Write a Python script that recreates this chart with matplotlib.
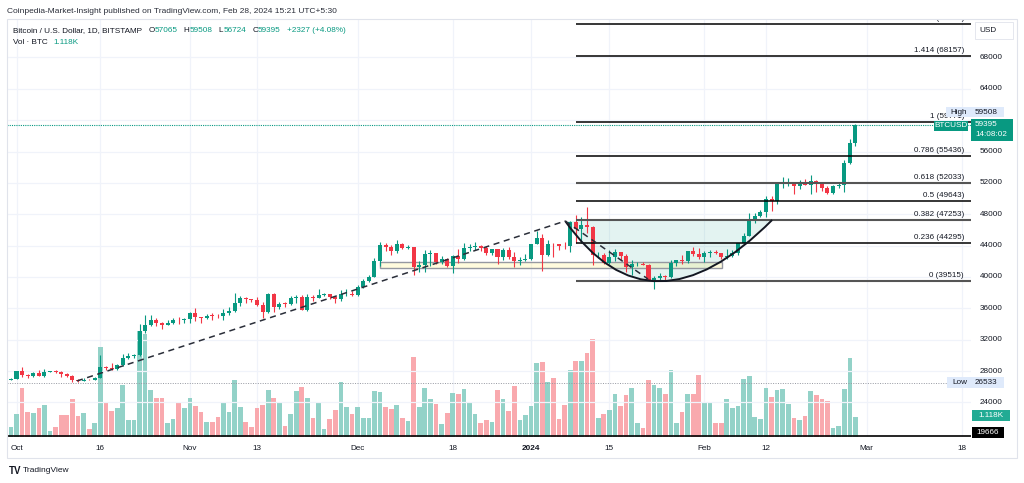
import matplotlib
matplotlib.use('Agg')
import matplotlib.pyplot as plt
import matplotlib.dates as mdates
import matplotlib.transforms as mtransforms
from matplotlib.patches import Rectangle, PathPatch
from matplotlib.path import Path
from matplotlib.offsetbox import TextArea, HPacker, AnnotationBbox
import pandas as pd

plt.rcParams['font.family'] = ['Liberation Sans', 'DejaVu Sans']

# daily candles, BITSTAMP BTC/USD, 2023-09-29 .. 2024-02-28
dates = pd.date_range('2023-09-29', '2024-02-28', freq='D')

opens = [27030, 26910,
         26960, 27980, 27510, 27430, 27790, 27410, 27930, 27950, 27920, 27590, 27390, 26870, 26750, 26860, 26850,
         27150, 28500, 28410, 28320, 28720, 29670, 29910, 29990, 33080, 33920, 34500, 34150, 33900, 34090, 34530, 34490,
         34660, 35420, 34940, 34720, 35070, 35030, 35010, 35400, 35640, 36700, 37320, 37140, 37060, 36490, 35550,
         37880, 36160, 36600, 36590, 37380, 37460, 35800, 37420, 37290, 37720, 37790, 37480, 37250, 37820, 37850,
         37720, 38690, 39460, 39970, 41980, 44080, 43770, 43290, 44170, 43720, 43790, 41240, 41480, 42890, 43020,
         41940, 42270, 41370, 42660, 42270, 43650, 43860, 43990, 43740, 43020, 43580, 42520, 43440, 42580, 42070, 42140,
         42280, 44180, 44960, 42850, 44180, 44160, 43970, 43930, 46970, 46120, 46650, 46340, 42780, 42850, 41730,
         42510, 43150, 42740, 41280, 41620, 41670, 41560, 39570, 39900, 40080, 39940, 41820, 42120, 42030, 43300, 42950,
         42580, 43080, 43190, 43010, 42580, 42700, 43090, 44340, 45290, 47130, 47770, 48290, 49960, 49700, 51800,
         51940, 52140, 51660, 52120, 51780, 52280, 51850, 51300, 50740, 51570, 51730, 54490, 57065]
highs = [27230, 27090,
         28050, 28580, 27660, 27830, 28120, 28270, 28000, 28110, 27990, 27730, 27480, 26940, 27090, 26970, 27290,
         30000, 28610, 28970, 28900, 30200, 30350, 30200, 34000, 35200, 35120, 34780, 34230, 34470, 34760, 34860, 34720,
         35570, 35990, 34950, 35280, 35390, 35300, 35880, 36120, 37950, 37530, 37410, 37220, 37420, 36750, 37960,
         37930, 36860, 36840, 37530, 37750, 37660, 37870, 37660, 38420, 37900, 37830, 37570, 38380, 38440, 38180,
         38970, 39700, 40200, 42420, 44490, 44300, 44050, 44700, 44370, 44040, 43790, 42100, 43440, 43430, 43090,
         42720, 42420, 42760, 43520, 44280, 44230, 44400, 44020, 43940, 43600, 43600, 43690, 43800, 43150, 42600, 42880,
         44190, 45900, 45500, 44760, 44340, 44200, 44480, 47200, 47900, 47690, 48970, 46500, 43250, 43070, 43390,
         43580, 43200, 42920, 42190, 41850, 41870, 41670, 40150, 40540, 40280, 42200, 42200, 42840, 43320, 43860, 43740,
         43290, 43420, 43380, 43100, 43540, 43400, 44380, 45600, 48200, 48170, 48580, 50300, 50380, 52000, 52800,
         52600, 52150, 52380, 52480, 52950, 52380, 52050, 51580, 51680, 51940, 54900, 57540, 59508]
lows = [26670, 26890,
        26950, 27300, 27170, 27220, 27380, 27200, 27850, 27700, 27270, 27300, 26550, 26560, 26690, 26810, 26800,
        27120, 28100, 28150, 28180, 28600, 29480, 29670, 29890, 32880, 33710, 33780, 33420, 33860, 33950, 34060, 34080,
        34100, 34360, 34130, 34580, 34560, 34750, 34550, 35100, 35550, 36330, 36730, 36750, 36330, 34800, 35360,
        35540, 35890, 36220, 36380, 36730, 35760, 35680, 36900, 37270, 37620, 37170, 36740, 36900, 37610, 37520,
        37620, 38650, 39300, 39960, 41440, 43350, 42840, 43100, 43590, 43570, 40230, 40680, 40660, 41450, 41690,
        41690, 41250, 40530, 41830, 42210, 43300, 43410, 43350, 42800, 42770, 41640, 42110, 42320, 41300, 41540, 41990,
        42190, 44160, 40800, 42640, 42590, 43420, 43590, 43200, 44350, 44330, 45600, 41500, 42440, 41720, 41700,
        42050, 42200, 40680, 40280, 41450, 41500, 39450, 38520, 39490, 39520, 39820, 41390, 41620, 41830, 42700, 42310,
        41890, 42600, 42890, 42260, 42270, 42580, 42780, 44330, 45270, 46830, 47620, 47700, 48400, 49300, 51330,
        51600, 50630, 51160, 51700, 50640, 50800, 50960, 50550, 50600, 51290, 50890, 54440, 56724]
closes = [26910, 26960,
          27980, 27510, 27430, 27790, 27410, 27930, 27950, 27920, 27590, 27390, 26870, 26750, 26860, 26850, 27150,
          28500, 28410, 28320, 28720, 29670, 29910, 29990, 33080, 33920, 34500, 34150, 33900, 34090, 34530, 34490, 34660,
          35420, 34940, 34720, 35070, 35030, 35010, 35400, 35640, 36700, 37320, 37140, 37060, 36490, 35550, 37880,
          36160, 36600, 36590, 37380, 37460, 35800, 37420, 37290, 37720, 37790, 37480, 37250, 37820, 37850, 37720,
          38690, 39460, 39970, 41980, 44080, 43770, 43290, 44170, 43720, 43790, 41240, 41480, 42890, 43020, 41940,
          42270, 41370, 42660, 42270, 43650, 43860, 43990, 43740, 43020, 43580, 42520, 43440, 42580, 42070, 42140, 42280,
          44180, 44960, 42850, 44180, 44160, 43970, 43930, 46970, 46120, 46650, 46340, 42780, 42850, 41730, 42510,
          43150, 42740, 41280, 41620, 41670, 41560, 39570, 39900, 40080, 39940, 41820, 42120, 42030, 43300, 42950, 42580,
          43080, 43190, 43010, 42580, 42700, 43090, 44340, 45290, 47130, 47770, 48290, 49960, 49700, 51800, 51940,
          52140, 51660, 52120, 51780, 52280, 51850, 51300, 50740, 51570, 51730, 54490, 57070, 59395]
volumes = [1600, 550,
           1280, 2700, 1380, 1320, 1600, 1760, 350, 570, 1210, 1210, 2090, 1140, 1320, 440, 790,
           4970, 1930, 1450, 1600, 2880, 950, 950, 5820, 5670, 2590, 2150, 2160, 790, 990, 1930, 1600,
           2160, 1690, 1380, 830, 830, 1100, 1870, 1390, 3140, 1650, 830, 570, 1580, 1760, 2570,
           2130, 1940, 610, 1280, 2550, 2740, 2130, 1050, 1860, 420, 990, 1500, 3030, 1640, 1270,
           1640, 1050, 1060, 2530, 2480, 1640, 1540, 1760, 1060, 900, 4420, 1650, 2720, 2080, 1830,
           730, 1310, 2420, 2370, 2640, 1940, 1280, 790, 950, 830, 2570, 2090, 1450, 2830, 950, 1210,
           1710, 4080, 4130, 3010, 3250, 1010, 1780, 3670, 4190, 4190, 4630, 5400, 1060, 1280, 1490,
           2370, 1720, 2310, 2720, 750, 480, 3140, 2850, 2720, 2370, 3670, 770, 1380, 2370, 2370, 3410,
           1940, 1940, 790, 790, 2090, 1610, 1720, 3180, 3380, 1100, 990, 2720, 2200, 2570, 2660,
           1830, 1050, 950, 1170, 2530, 2310, 2090, 1980, 510, 610, 2660, 4370, 1118]

# fibonacci retracement drawn from 2024-01-09
fib_ratios = ['0', '0.236', '0.382', '0.5', '0.618', '0.786', '1', '1.414', '1.618']
fib_prices = [39515, 44295, 47253, 49643, 52033, 55436, 59771, 68157, 72289]
fib_start = '2024-01-09'

price_ticks = [24000, 28000, 32000, 36000, 40000, 44000, 48000, 52000, 56000, 64000, 68000]
time_ticks = ['2023-10-01', '2023-10-16', '2023-11-01', '2023-11-13', '2023-12-01', '2023-12-18',
              '2024-01-01', '2024-01-15', '2024-02-01', '2024-02-12', '2024-03-01', '2024-03-18']
time_labels = ['Oct', '16', 'Nov', '13', 'Dec', '18', '2024', '15', 'Feb', '12', 'Mar', '18']

# drawings (day offsets from 2023-10-01, price)
trend_up = [(10.8, 26740), (98.1, 47140)]
trend_down = [(98.1, 47140), (112.9, 39745)]
cup = [(98.1, 47140), (113.4, 31700), (135.1, 47270)]
zone = [(65.0, 126.1), (41210, 41950)]
hline_price = 19666
last_price = 59395
high_price = 59508
low_price = 26533

UP = '#089981'
DOWN = '#f23645'
DARK = '#131722'
FS = 5.9
W, H = 1024, 483

fig = plt.figure(figsize=(W / 100, H / 100), dpi=100)
rect = [7 / W, 1 - 437 / H, (971 - 7) / W, (437 - 20) / H]
ax_v = fig.add_axes(rect)
ax = fig.add_axes(rect, sharex=ax_v)
ax.patch.set_alpha(0)

x = mdates.date2num(dates)
base = mdates.date2num(pd.Timestamp('2023-10-01'))

# volume
vol_colors = ['#93d2c8' if c >= o else '#f9a9ae' for o, c in zip(opens, closes)]
ax_v.bar(x, volumes, width=0.84, color=vol_colors, zorder=2)
ax_v.set_ylim(0, 417 * 55.07)
for t in time_ticks:
    ax_v.axvline(mdates.date2num(pd.Timestamp(t)), color='#f0f3fa', lw=0.9, zorder=0)

# price grid
for p in price_ticks + [60000]:
    ax.axhline(p, color='#f0f3fa', lw=0.9, zorder=0)

# candles
for xi, o, h, l, c in zip(x, opens, highs, lows, closes):
    col = UP if c >= o else DOWN
    ax.vlines(xi, l, h, color=col, lw=0.8, zorder=4)
    ax.bar(xi, max(abs(c - o), 60), bottom=min(o, c), width=0.72, color=col, zorder=5)

# price lines
ax.axhline(low_price, color='#9598a1', lw=0.7, ls=(0, (1, 1.5)), zorder=3)
ax.axhline(last_price, color=UP, lw=0.8, ls=(0, (1, 1)), zorder=3)
ax.axhline(hline_price, color='black', lw=1.2, zorder=6)

# fib levels
xf = mdates.date2num(pd.Timestamp(fib_start))
for r, p in zip(fib_ratios, fib_prices):
    grey = r in ('0', '0.382', '0.618')
    ax.hlines(p, xf, base + 175, color='#555555' if grey else 'black', lw=1.5 if grey else 1.1, zorder=6)
    ax.annotate(f'{r} ({p})', xy=(1, p), xycoords=('axes fraction', 'data'), xytext=(-5, 1.5),
                textcoords='offset points', ha='right', va='bottom', fontsize=5.8, color=DARK,
                annotation_clip=True, clip_on=True, zorder=7)

# zone rectangle
ax.add_patch(Rectangle((base + zone[0][0], zone[1][0]), zone[0][1] - zone[0][0], zone[1][1] - zone[1][0],
                       facecolor=(1, 0.92, 0.23, 0.17), edgecolor='#9598a1', lw=1, zorder=3))

# cup arc
verts = [(base + d, p) for d, p in cup]
cup_path = Path(verts + [verts[0]], [Path.MOVETO, Path.CURVE3, Path.CURVE3, Path.LINETO])
ax.add_patch(PathPatch(cup_path, facecolor=(8 / 255, 153 / 255, 129 / 255, 0.11), edgecolor='none', zorder=1))
arc_path = Path(verts, [Path.MOVETO, Path.CURVE3, Path.CURVE3])
ax.add_patch(PathPatch(arc_path, facecolor='none', edgecolor=DARK, lw=1.4, zorder=7))

# trend lines
for seg in (trend_up, trend_down):
    ax.plot([base + seg[0][0], base + seg[1][0]], [seg[0][1], seg[1][1]], color='#2a2e39', lw=1.1,
            dashes=(4, 3), zorder=7)

ax.set_xlim(base - 1.70, base + 170.66)
ax.set_ylim(19594, 72776)
for a in (ax, ax_v):
    a.set_xticks([])
    a.set_yticks([])
    for s in a.spines.values():
        s.set_visible(False)


def fy(y):
    return 1 - y / H


def box(x0, x1, y0, y1, fc, ec='none'):
    fig.patches.append(Rectangle((x0 / W, fy(y1)), (x1 - x0) / W, (y1 - y0) / H, transform=fig.transFigure,
                                 facecolor=fc, edgecolor=ec, lw=0.6, zorder=10))


def txt(xp, yp, s, color=DARK, ha='left', size=FS, weight='normal'):
    fig.text(xp / W, fy(yp), s, color=color, ha=ha, va='center', fontsize=size, weight=weight, zorder=11)


def row(xp, yp, pieces, sep):
    areas = [TextArea(s, textprops=dict(color=c, fontsize=FS)) for s, c in pieces]
    pack = HPacker(children=areas, pad=0, sep=0, align='baseline')
    # gaps between groups come from sep values per piece pair
    pack = HPacker(children=[HPacker(children=areas[i:i + 2], pad=0, sep=0) for i in range(0, len(areas), 2)],
                   pad=0, sep=sep, align='baseline')
    fig.add_artist(AnnotationBbox(pack, (xp, H - yp), xycoords='figure pixels', box_alignment=(0, 0.5),
                                  frameon=False, pad=0, zorder=11))


# pane frame
fig.patches.append(Rectangle((7 / W, fy(458)), 1010 / W, 439 / H, transform=fig.transFigure,
                             facecolor='none', edgecolor='#e0e3eb', lw=0.8, zorder=9))

# header
txt(7, 11.5, 'Coinpedia-Market-Insight published on TradingView.com, Feb 28, 2024 15:21 UTC+5:30', '#2a2e39',
    size=6.05)
row(13, 30.5, [('Bitcoin / U.S. Dollar, 1D, BITSTAMP', DARK), ('', DARK), ('O', DARK), ('57065', UP),
               ('H', DARK), ('59508', UP), ('L', DARK), ('56724', UP), ('C', DARK), ('59395', UP),
               ('+2327 (+4.08%)', UP), ('', UP)], sep=4.5)
row(13, 43, [('Vol · BTC', DARK), ('', DARK), ('1.118K', UP), ('', UP)], sep=4.5)

# price axis
for p in price_ticks:
    txt(980, 277 - (p - 40000) * 0.007841, str(p))
box(975, 1013, 22, 39, 'white', '#e0e3eb')
txt(979, 30.5, 'USD')
box(946, 972, 107, 117, '#dfeafb')
txt(959, 112, 'High', ha='center')
box(972, 1004, 107, 117, '#dfeafb')
txt(975, 112, str(high_price))
box(934, 968, 120.5, 131, UP)
txt(951, 125.7, 'BTCUSD', 'white', ha='center')
box(971, 1013, 119, 141, UP)
txt(975, 125, str(last_price), 'white')
txt(975, 135, '14:08:02', 'white')
box(947, 972, 377, 388, '#dfeafb')
txt(959.5, 382.5, 'Low', ha='center')
box(972, 1004, 377, 388, '#dfeafb')
txt(975, 382.5, str(low_price))
box(972, 1010, 410, 421, '#22ab94')
txt(991, 415.5, '1.118K', 'white', ha='center')
box(972, 1004, 427, 438, 'black')
txt(988, 432.5, str(hline_price), 'white', ha='center')

# time axis
tr = mtransforms.blended_transform_factory(ax.transData, fig.transFigure)
for t, lab in zip(time_ticks, time_labels):
    ax.text(mdates.date2num(pd.Timestamp(t)), fy(448), lab, transform=tr, ha='center', va='center',
            fontsize=FS, color=DARK, weight='bold' if lab == '2024' else 'normal', clip_on=False)

# footer logo
txt(9, 470.5, 'TV', DARK, size=7, weight='bold')
txt(23, 470.5, 'TradingView', DARK, size=6)

fig.savefig('out.png', dpi=100)
